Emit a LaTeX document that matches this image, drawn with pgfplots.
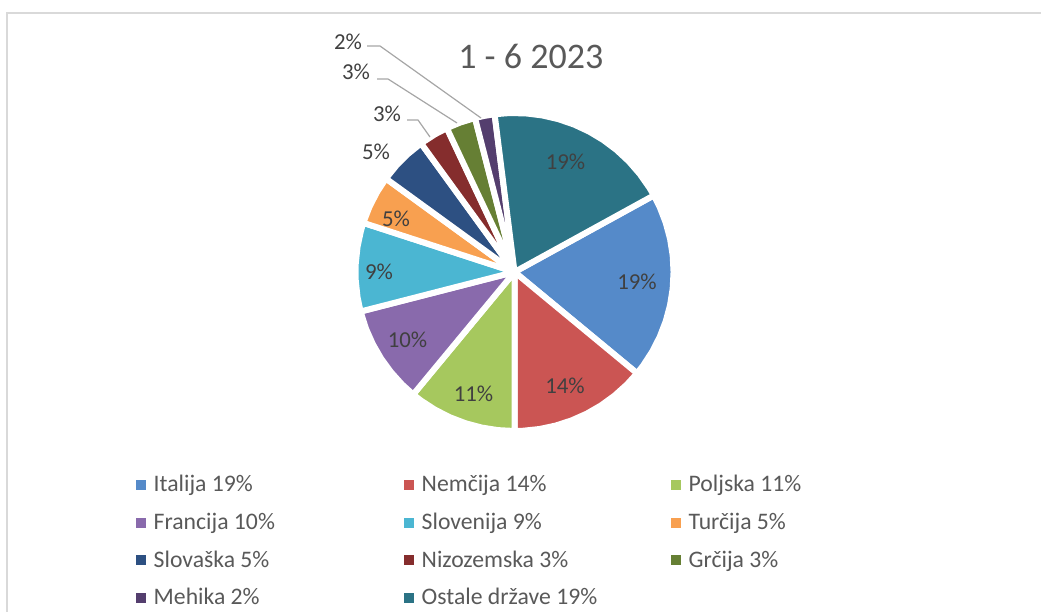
\documentclass[border=0pt]{standalone}
\usepackage{pgfplots}
\pgfplotsset{compat=1.18}
\usepackage{fontspec}
\setmainfont{Carlito}
\definecolor{cIta}{HTML}{558AC9}
\definecolor{cNem}{HTML}{CB5553}
\definecolor{cPol}{HTML}{A6C85E}
\definecolor{cFra}{HTML}{896AAC}
\definecolor{cSlo}{HTML}{4BB6D2}
\definecolor{cTur}{HTML}{F8A050}
\definecolor{cSlk}{HTML}{2D5082}
\definecolor{cNiz}{HTML}{852D2D}
\definecolor{cGrc}{HTML}{667F34}
\definecolor{cMeh}{HTML}{543E6E}
\definecolor{cOst}{HTML}{2B7385}
\definecolor{lblc}{HTML}{404040}
\definecolor{legc}{HTML}{595959}
\definecolor{leadc}{HTML}{A6A6A6}
\definecolor{bordc}{HTML}{D9D9D9}
% shares (%): Italija 19, Nemcija 14, Poljska 11, Francija 10, Slovenija 9,
% Turcija 5, Slovaska 5, Nizozemska 3, Grcija 3, Mehika 2, Ostale drzave 19
% slices drawn clockwise from 28.8 deg as (angle, radius) pairs
\begin{document}
\begin{tikzpicture}
\useasboundingbox (0pt,0pt) rectangle (1041pt,612pt);
\begin{axis}[at={(0pt,0pt)},anchor=south west,
  width=1041pt,height=612pt,scale only axis,
  xmin=-514.5,xmax=526.5,ymin=-340,ymax=272,
  hide axis,clip=false]
\pgfplotsset{every axis plot/.append style={draw=white,line width=6pt,line join=round,data cs=polar}}
% Italija 19%
\addplot[fill=cIta] coordinates {(0,0) (28.8,159) (24,159) (18,159) (12,159) (6,159) (0,159) (-6,159) (-12,159) (-18,159) (-24,159) (-30,159) (-36,159) (-39.6,159)} -- cycle;
% Nemcija 14%
\addplot[fill=cNem] coordinates {(0,0) (-39.6,159) (-45,159) (-51,159) (-57,159) (-63,159) (-69,159) (-75,159) (-81,159) (-87,159) (-90,159)} -- cycle;
% Poljska 11%
\addplot[fill=cPol] coordinates {(0,0) (-90,159) (-96,159) (-102,159) (-108,159) (-114,159) (-120,159) (-126,159) (-129.6,159)} -- cycle;
% Francija 10%
\addplot[fill=cFra] coordinates {(0,0) (-129.6,159) (-135,159) (-141,159) (-147,159) (-153,159) (-159,159) (-165.6,159)} -- cycle;
% Slovenija 9%
\addplot[fill=cSlo] coordinates {(0,0) (-165.6,159) (-171,159) (-177,159) (-183,159) (-189,159) (-195,159) (-198,159)} -- cycle;
% Turcija 5%
\addplot[fill=cTur] coordinates {(0,0) (-198,159) (-204,159) (-210,159) (-216,159)} -- cycle;
% Slovaska 5%
\addplot[fill=cSlk] coordinates {(0,0) (-216,159) (-222,159) (-228,159) (-234,159)} -- cycle;
% Nizozemska 3%
\addplot[fill=cNiz] coordinates {(0,0) (-234,159) (-240,159) (-244.8,159)} -- cycle;
% Grcija 3%
\addplot[fill=cGrc] coordinates {(0,0) (-244.8,159) (-250,159) (-255.6,159)} -- cycle;
% Mehika 2%
\addplot[fill=cMeh] coordinates {(0,0) (-255.6,159) (-259,159) (-262.8,159)} -- cycle;
% Ostale drzave 19%
\addplot[fill=cOst] coordinates {(0,0) (-262.8,159) (-268,159) (-274,159) (-280,159) (-286,159) (-292,159) (-298,159) (-304,159) (-310,159) (-316,159) (-322,159) (-328,159) (-331.2,159)} -- cycle;
\end{axis}
\begin{scope}[x=1pt,y=1pt]
% chart border
\draw[bordc,line width=1.5pt] (7,0) -- (7,599) -- (1041,599);
% title
\node[anchor=base,inner sep=0pt,text=legc,font=\fontsize{36}{40}\selectfont] at (530.8,543.7) {1 - 6 2023};
% leader lines
\draw[leadc,line width=1.2pt] (367,566) -- (380,566) -- (481,494);
\draw[leadc,line width=1.2pt] (377,533) -- (388,533) -- (457,489);
\draw[leadc,line width=1.2pt] (407,492) -- (418,492) -- (430,475);
% data labels
\tikzset{lbl/.style={anchor=base,inner sep=0pt,text=lblc,font=\fontsize{22.8}{26}\selectfont}}
\node[lbl] at (565.5,442) {19\%};
\node[lbl] at (637,322) {19\%};
\node[lbl] at (565,218.7) {14\%};
\node[lbl] at (473.5,210.3) {11\%};
\node[lbl] at (407.5,264) {10\%};
\node[lbl] at (379,332) {9\%};
\node[lbl] at (396,385.3) {5\%};
\node[lbl] at (376,452) {5\%};
\node[lbl] at (387,490.3) {3\%};
\node[lbl] at (356,532) {3\%};
\node[lbl] at (348,562) {2\%};
% legend
\tikzset{leg/.style={anchor=base west,inner sep=0pt,text=legc,font=\fontsize{23.7}{27}\selectfont}}
\newcommand\legent[5]{\fill[#1] (#2-5,#3-5) rectangle (#2+5,#3+5); \node[leg] at (#2+12.5,#3-7) {#5};}
\legent{cIta}{141}{127.3}{}{Italija 19\%}
\legent{cNem}{409}{127.3}{}{Nemčija 14\%}
\legent{cPol}{676}{127.3}{}{Poljska 11\%}
\legent{cFra}{141}{89}{}{Francija 10\%}
\legent{cSlo}{409}{89}{}{Slovenija 9\%}
\legent{cTur}{676}{89}{}{Turčija 5\%}
\legent{cSlk}{141}{51.7}{}{Slovaška 5\%}
\legent{cNiz}{409}{51.7}{}{Nizozemska 3\%}
\legent{cGrc}{676}{51.7}{}{Grčija 3\%}
\legent{cMeh}{141}{14}{}{Mehika 2\%}
\legent{cOst}{409}{14}{}{Ostale države 19\%}
\end{scope}
\end{tikzpicture}
\end{document}
